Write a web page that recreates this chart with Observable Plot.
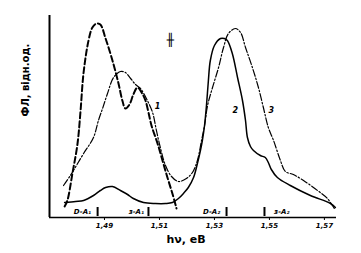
<!DOCTYPE html>
<html><head><meta charset="utf-8">
<script src="https://cdn.jsdelivr.net/npm/d3@7"></script>
<script src="https://cdn.jsdelivr.net/npm/@observablehq/plot@0.6"></script>
<style>body{margin:0;background:#fff} svg{display:block}</style>
</head><body><div id="chart"></div>
<script>
// Energies (eV) and PL intensities (arb. units)
const energy1 = [1.4755,1.4765,1.4784,1.4802,1.4813,1.4824,1.4842,1.4856,1.4871,1.4885,1.4904,1.4929,1.4951,1.4965,1.4976,1.4991,1.5005,1.5020,1.5035,1.5049,1.5060,1.5071,1.5093,1.5111,1.5129,1.5147,1.5162];
const intensity1 = [11,17,45,74,107,145,177,190,194,193,179,157,134,117,109,113,123,130,125,117,105,92,74,57,40,24,9];

const energy2 = [1.4755,1.4795,1.4824,1.4860,1.4885,1.4904,1.4929,1.4958,1.4984,1.5005,1.5042,1.5085,1.5122,1.5147,1.5169,1.5187,1.5205,1.5224,1.5238,1.5249,1.5256,1.5264,1.5271,1.5278,1.5285,1.5300,1.5322,1.5336,1.5347,1.5365,1.5384,1.5402,1.5413,1.5420,1.5431,1.5442,1.5467,1.5485,1.5496,1.5507,1.5529,1.5576,1.5649,1.5722,1.5740];
const intensity2 = [15,16,17,22,27,30,31,27,23,19,15,14,14,15,19,24,30,40,54,67,77,92,112,137,157,172,179,179,177,164,140,117,97,80,71,67,62,60,55,48,40,32,22,14,10];

const energy3 = [1.4751,1.4776,1.4798,1.4824,1.4860,1.4878,1.4893,1.4911,1.4933,1.4958,1.4976,1.4995,1.5013,1.5031,1.5056,1.5075,1.5089,1.5104,1.5122,1.5144,1.5169,1.5198,1.5220,1.5238,1.5253,1.5264,1.5275,1.5293,1.5315,1.5333,1.5351,1.5376,1.5395,1.5413,1.5438,1.5460,1.5478,1.5496,1.5515,1.5540,1.5558,1.5587,1.5624,1.5675,1.5711,1.5736];
const intensity3 = [32,42,52,64,80,97,109,124,140,146,145,139,133,129,117,105,87,69,52,41,36,39,45,57,77,92,112,130,150,170,184,189,185,170,150,130,110,90,77,57,46,43,37,27,19,9];

const xTicks = [1.49,1.51,1.53,1.55,1.57];
const transitionE = [1.4875,1.5060,1.5344,1.5482];
const transitionNames = ["D-A₁","з-A₁","D-A₂","з-A₂"];
const transitionLabelE = [1.4820,1.5016,1.5290,1.5545];
const curveNames = ["1","2","3"];
const curveLabelE = [1.5093,1.5376,1.5507];
const curveLabelI = [111,107,107];

const toRows = (xs, ys) => xs.map((x, i) => ({x, y: ys[i]}));
const c1 = toRows(energy1, intensity1);
const c2 = toRows(energy2, intensity2);
const c3 = toRows(energy3, intensity3);
const trans = transitionE.map((e, i) => ({e, name: transitionNames[i], le: transitionLabelE[i]}));
const clabels = curveNames.map((n, i) => ({n, x: curveLabelE[i], y: curveLabelI[i]}));

const chart = Plot.plot({
  width: 361, height: 253,
  marginLeft: 49, marginRight: 25, marginTop: 15, marginBottom: 36,
  style: {background: "#fff", fontFamily: "DejaVu Sans", color: "#000"},
  x: {domain: [1.47, 1.5744]},
  y: {domain: [0, 202], axis: null},
  marks: [
    Plot.axisX({ticks: xTicks, tickFormat: d => d.toFixed(2).replace(".", ","), tickSize: 3, tickPadding: 3, fontSize: 7, fontWeight: "bold", fontStyle: "italic", label: null}),
    Plot.ruleX([1.47], {strokeWidth: 2}),
    Plot.ruleY([0], {strokeWidth: 1.6}),
    Plot.line(c1, {x: "x", y: "y", curve: "catmull-rom", strokeWidth: 2, strokeDasharray: "6,3"}),
    Plot.line(c2, {x: "x", y: "y", curve: "catmull-rom", strokeWidth: 1.5}),
    Plot.line(c3, {x: "x", y: "y", curve: "catmull-rom", strokeWidth: 1.2, strokeDasharray: "7,2,1.5,2"}),
    Plot.ruleX(trans, {x: "e", y1: 1, y2: 10, strokeWidth: 2}),
    Plot.text(trans, {x: "le", y: 6, text: "name", fontSize: 7, fontWeight: "bold", fontStyle: "italic"}),
    Plot.text(clabels, {x: "x", y: "y", text: "n", fontSize: 8, fontWeight: "bold", fontStyle: "italic"}),
    Plot.text(["╫"], {x: 1.5140, y: 177, fontSize: 12}),
    Plot.text(["ФЛ, відн.од."], {frameAnchor: "left", rotate: -90, dx: -24, fontSize: 10, fontWeight: "bold"}),
    Plot.text(["hν, еВ"], {frameAnchor: "bottom", dy: 25, dx: -7, fontSize: 11, fontWeight: "bold"})
  ]
});
document.getElementById("chart").appendChild(chart);
</script>
</body></html>
